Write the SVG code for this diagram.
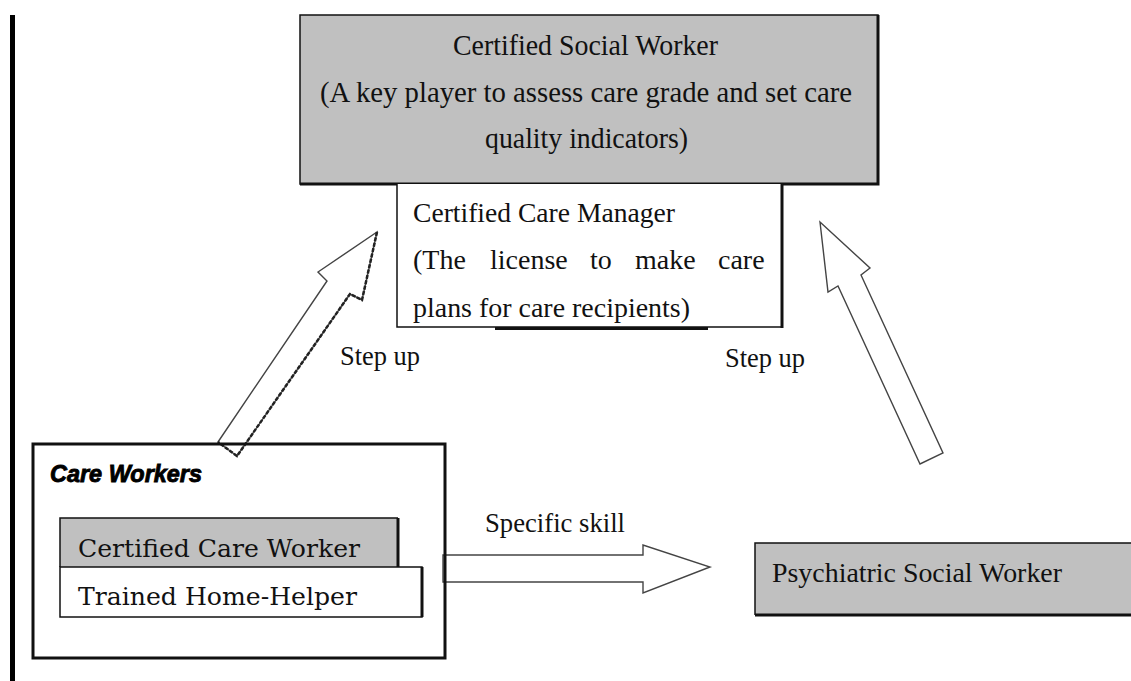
<svg xmlns="http://www.w3.org/2000/svg" width="1131" height="681" viewBox="0 0 1131 681">
  <style>
    .t { font-family: "Liberation Serif", "Times New Roman", serif; font-size: 28px; fill: #111; }
    .big { font-size: 30px; }
    .w { font-family: "DejaVu Serif", "Liberation Serif", serif; font-size: 24px; fill: #111; }
    .gray { fill: #c0c0c0; }
    .edge { stroke: #111; fill: none; }
    .thin { stroke-width: 1.5; }
    .thick { stroke-width: 3; }
    .arrow { fill: #fff; stroke: #444; stroke-width: 1.4; stroke-linejoin: miter; }
    .shade { fill: none; stroke: #222; stroke-width: 2.5; stroke-dasharray: 4 1.5; }
  </style>

  <rect width="1131" height="681" fill="#fff"/>

  <!-- page margin rule -->
  <rect x="10" y="15" width="5" height="666" fill="#000"/>

  <!-- connectors: hollow block arrows -->
  <g id="connectors">
    <!-- Care Workers -> Certified Care Manager -->
    <polygon class="arrow" points="218,442 327,281 318,272 377,232 362,300 350,294 237,456"/>
    <polyline class="shade" points="377,232 362,300 350,294 237,456 218,442"/>
    <!-- Psychiatric Social Worker -> Certified Social Worker -->
    <polygon class="arrow" stroke="#666" points="820,222 828,292 838,286 920,464 943,453 861,275 870,268"/>
    <!-- Care Workers -> Psychiatric Social Worker -->
    <polygon class="arrow" stroke="#666" points="443,555 643,555 643,545 710,567 643,593 643,582 443,582"/>
    <text class="t" x="340" y="365" textLength="80" lengthAdjust="spacingAndGlyphs">Step up</text>
    <text class="t" x="725" y="367" textLength="80" lengthAdjust="spacingAndGlyphs">Step up</text>
    <text class="t" x="485" y="532" textLength="140" lengthAdjust="spacingAndGlyphs">Specific skill</text>
  </g>

  <!-- Certified Social Worker -->
  <g id="social-worker">
    <rect class="gray" x="300" y="15" width="578" height="169"/>
    <rect class="edge thin" x="300" y="15" width="578" height="169"/>
    <polyline class="edge thick" points="300,184 878,184 878,15"/>
    <text class="t big" x="453" y="55" textLength="265" lengthAdjust="spacingAndGlyphs">Certified Social Worker</text>
    <text class="t big" x="320" y="102" textLength="532" lengthAdjust="spacingAndGlyphs">(A key player to assess care grade and set care</text>
    <text class="t big" x="485" y="148" textLength="203" lengthAdjust="spacingAndGlyphs">quality indicators)</text>
  </g>

  <!-- Certified Care Manager -->
  <g id="care-manager">
    <rect x="397" y="184" width="385" height="143" fill="#fff"/>
    <polyline class="edge thin" points="397,184 397,327 782,327"/>
    <line class="edge thick" x1="782" y1="184" x2="782" y2="328"/>
    <line class="edge thick" x1="495" y1="328.5" x2="708" y2="328.5"/>
    <text class="t" x="413" y="222" textLength="262" lengthAdjust="spacingAndGlyphs">Certified Care Manager</text>
    <text class="t" y="269">
      <tspan x="413">(The</tspan><tspan x="490">license</tspan><tspan x="590">to</tspan><tspan x="635">make</tspan><tspan x="718">care</tspan>
    </text>
    <text class="t" x="413" y="317" textLength="277" lengthAdjust="spacingAndGlyphs">plans for care recipients)</text>
  </g>

  <!-- Care Workers -->
  <g id="care-workers">
    <rect class="edge thick" x="33" y="444" width="412" height="214" fill="#fff"/>
    <text x="50" y="482" font-family="'Liberation Sans', Arial, sans-serif" font-size="24" font-weight="bold" font-style="italic" fill="#000" stroke="#000" stroke-width="0.9" textLength="152" lengthAdjust="spacingAndGlyphs">Care Workers</text>
  </g>

  <!-- Certified Care Worker -->
  <g id="certified-care-worker">
    <rect class="gray" x="60" y="518" width="338" height="49"/>
    <polyline class="edge thin" points="60,567 60,518 398,518"/>
    <line class="edge thick" x1="398" y1="518" x2="398" y2="567"/>
    <text class="w" x="78" y="557" textLength="282" lengthAdjust="spacingAndGlyphs">Certified Care Worker</text>
  </g>

  <!-- Trained Home-Helper -->
  <g id="home-helper">
    <rect class="edge thin" x="60" y="567" width="362" height="50" fill="#fff"/>
    <line class="edge thick" x1="422" y1="567" x2="422" y2="617"/>
    <text class="w" x="78" y="605" textLength="279" lengthAdjust="spacingAndGlyphs">Trained Home-Helper</text>
  </g>

  <!-- Psychiatric Social Worker -->
  <g id="psychiatric-social-worker">
    <rect class="gray" x="755" y="543" width="380" height="72"/>
    <polyline class="edge thin" points="1135,543 755,543 755,615"/>
    <line class="edge thick" x1="755" y1="615" x2="1135" y2="615"/>
    <text class="t" x="772" y="582" textLength="290" lengthAdjust="spacingAndGlyphs">Psychiatric Social Worker</text>
  </g>
</svg>
